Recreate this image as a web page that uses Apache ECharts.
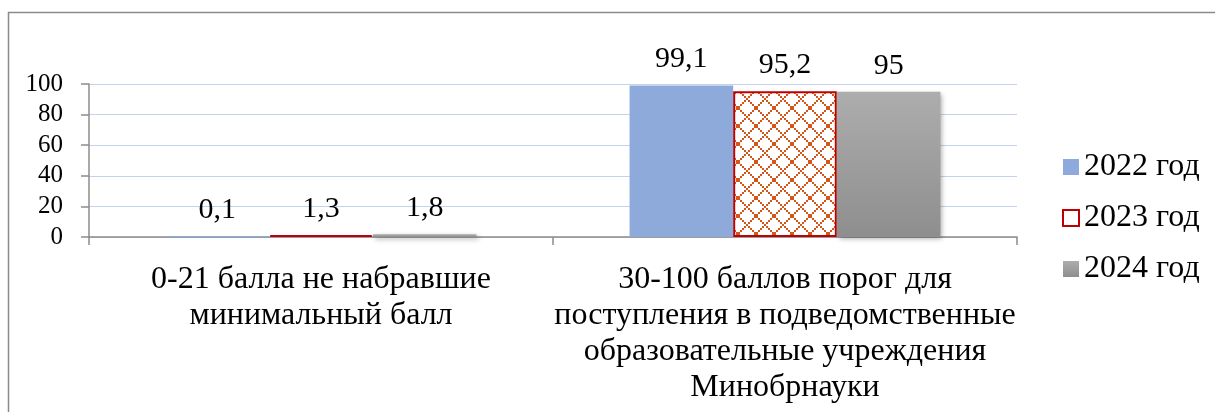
<!DOCTYPE html>
<html><head><meta charset="utf-8">
<script src="https://cdn.jsdelivr.net/npm/echarts@6/dist/echarts.min.js"></script>
<style>html,body{margin:0;padding:0;background:#fff}#c{width:1215px;height:412px}
#fl{position:absolute;left:-9999px;top:0;font:20px 'Liberation Serif'}</style>
</head><body><div id="fl">0-21 балла год 99,1</div><div id="c"></div>
<script>
const categories = ["0-21 балла не набравшие\nминимальный балл", "30-100 баллов порог для\nпоступления в подведомственные\nобразовательные учреждения\nМинобрнауки"];
const seriesNames = ["2022 год", "2023 год", "2024 год"];
const values2022 = [0.1, 99.1];
const values2023 = [1.3, 95.2];
const values2024 = [1.8, 95];
const yTicks = [0, 20, 40, 60, 80, 100];

const FONT = 'Liberation Serif';

function makePattern() {
  const P = 18;
  const cv = document.createElement('canvas');
  cv.width = P; cv.height = P;
  const ctx = cv.getContext('2d');
  ctx.fillStyle = '#ffffff';
  ctx.fillRect(0, 0, P, P);
  ctx.fillStyle = '#d3571a';
  for (let k = 0; k < P; k += 2) {
    ctx.fillRect(k, k, 2, 2);
    ctx.fillRect(P - 2 - k, k, 2, 2);
  }
  return cv;
}

function draw() {
  const pattern = { image: makePattern(), repeat: 'repeat' };
  const chart = echarts.init(document.getElementById('c'));
  const labelStyle = {
    show: true, position: 'top', distance: 11,
    fontFamily: FONT, fontSize: 30, color: '#000',
    formatter: p => String(p.value).replace('.', ',')
  };
  chart.setOption({
    animation: false,
    textStyle: { fontFamily: FONT },
    graphic: [{
      type: 'rect', shape: { x: 8.5, y: 12.5, width: 1300, height: 500 },
      style: { fill: 'none', stroke: '#8a8a8a', lineWidth: 1.5 }, silent: true, z: -10
    }],
    grid: { left: 89, right: 198, top: 84, bottom: 175 },
    legend: {
      orient: 'vertical', left: 1057, top: 146,
      itemWidth: 16, itemHeight: 16, itemGap: 19, itemStyle: { borderWidth: 0 },
      textStyle: { fontFamily: FONT, fontSize: 32, color: '#000' },
      data: [
        { name: seriesNames[0], icon: 'rect' },
        { name: seriesNames[1], icon: 'rect', itemStyle: { color: '#fff', borderColor: '#c00000', borderWidth: 2 } },
        { name: seriesNames[2], icon: 'rect' }
      ]
    },
    xAxis: {
      type: 'category', data: categories,
      axisLine: { lineStyle: { color: '#8c8c8c', width: 1.5 } },
      axisTick: { show: true, length: 8, lineStyle: { color: '#8c8c8c', width: 1.5 } },
      axisLabel: { fontFamily: FONT, fontSize: 32, color: '#000', lineHeight: 36, margin: 25, interval: 0 }
    },
    yAxis: {
      type: 'value', min: 0, max: 100, interval: 20,
      axisLine: { show: true, lineStyle: { color: '#8c8c8c', width: 1.5 } },
      axisTick: { show: true, length: 8, lineStyle: { color: '#8c8c8c', width: 1.5 } },
      splitLine: { lineStyle: { color: '#c3d3ee', width: 1.2 } },
      axisLabel: { fontFamily: FONT, fontSize: 25, color: '#000', margin: 26,
        formatter: v => yTicks.indexOf(v) >= 0 ? String(v) : '' }
    },
    series: [
      { name: seriesNames[0], type: 'bar', data: values2022, barGap: '0%', barCategoryGap: '33%', barMinHeight: 1,
        itemStyle: { color: '#8eaadb' }, label: labelStyle },
      { name: seriesNames[1], type: 'bar', data: values2023,
        itemStyle: { color: pattern, borderColor: '#c00000', borderWidth: 2 }, label: labelStyle },
      { name: seriesNames[2], type: 'bar', data: values2024,
        itemStyle: {
          color: new echarts.graphic.LinearGradient(0, 0, 0, 1, [{ offset: 0, color: '#adadad' }, { offset: 1, color: '#8e8e8e' }]),
          shadowColor: 'rgba(0,0,0,0.35)', shadowBlur: 5, shadowOffsetX: 2, shadowOffsetY: 2
        }, label: labelStyle }
    ]
  });
}
if (document.fonts && document.fonts.load) {
  Promise.all([document.fonts.load("20px 'Liberation Serif'"), document.fonts.ready]).then(draw, draw);
} else { draw(); }
</script></body></html>
